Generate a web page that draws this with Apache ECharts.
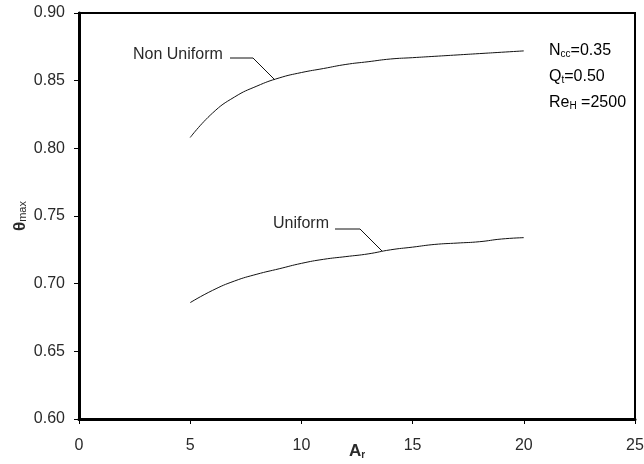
<!DOCTYPE html>
<html>
<head>
<meta charset="utf-8">
<script src="https://cdn.jsdelivr.net/npm/echarts@6/dist/echarts.min.js"></script>
<style>
html, body { margin: 0; padding: 0; background: #fff; }
#chart { width: 644px; height: 464px; }
</style>
</head>
<body>
<div id="chart"></div>
<script>
// A_r values and theta_max
var arValues = [5, 6, 7, 8, 9, 10, 11, 12, 13, 14, 15, 16, 17, 18, 19, 20];
var nonUniform = [0.808, 0.826, 0.838, 0.846, 0.852, 0.856, 0.859, 0.862, 0.864, 0.866, 0.867, 0.868, 0.869, 0.870, 0.871, 0.872];
var uniform = [0.686, 0.695, 0.702, 0.707, 0.711, 0.715, 0.718, 0.720, 0.722, 0.725, 0.727, 0.729, 0.730, 0.731, 0.733, 0.734];
var xTicks = [0, 5, 10, 15, 20, 25];
var yTicks = [0.60, 0.65, 0.70, 0.75, 0.80, 0.85, 0.90];

var font = 'Liberation Sans, Arial, sans-serif';
var txt = '#2a2a2a';
var chart = echarts.init(document.getElementById('chart'));

function pairs(xs, ys) {
    return xs.map(function (x, i) { return [x, ys[i]]; });
}

var subRich = {
    n: {fontSize: 16, fontFamily: font, color: txt},
    s: {fontSize: 10, fontFamily: font, color: txt, padding: [7, 0, 0, 0]}
};

chart.setOption({
    animation: false,
    grid: {
        left: 79, right: 9, top: 13, bottom: 45,
        containLabel: false, outerBoundsMode: 'none',
        show: true, borderColor: '#000', borderWidth: 2
    },
    xAxis: {
        type: 'value',
        min: xTicks[0], max: xTicks[xTicks.length - 1], interval: 5,
        name: '{a|A}{r|r}',
        nameLocation: 'middle', nameGap: 23, nameMoveOverlap: false,
        nameTextStyle: {
            rich: {
                a: {fontSize: 17, fontWeight: 'bold', fontFamily: font, color: txt},
                r: {fontSize: 10, fontWeight: 'bold', fontFamily: font, color: txt, padding: [8, 0, 0, 0]}
            }
        },
        axisLine: {lineStyle: {color: '#000', width: 3}},
        axisTick: {show: true, length: 5, lineStyle: {color: '#000', width: 1}},
        axisLabel: {fontSize: 16, fontFamily: font, color: txt, margin: 19},
        splitLine: {show: false}
    },
    yAxis: {
        type: 'value',
        min: yTicks[0], max: yTicks[yTicks.length - 1], interval: 0.05,
        name: '{t|θ}{m|max}',
        nameLocation: 'middle', nameGap: 50, nameRotate: 90, nameMoveOverlap: false,
        nameTextStyle: {
            rich: {
                t: {fontSize: 17, fontWeight: 'bold', fontFamily: font, color: txt},
                m: {fontSize: 11, fontFamily: font, color: txt, padding: [5, 0, 0, 0]}
            }
        },
        axisLine: {show: true, lineStyle: {color: '#000', width: 3}},
        axisTick: {show: true, length: 5, lineStyle: {color: '#000', width: 1}},
        axisLabel: {
            fontSize: 16, fontFamily: font, color: txt, margin: 14,
            formatter: function (v) { return v.toFixed(2); }
        },
        splitLine: {show: false}
    },
    series: [
        {
            name: 'Non Uniform', type: 'line', smooth: true, showSymbol: false,
            lineStyle: {color: '#111', width: 1},
            data: pairs(arValues, nonUniform)
        },
        {
            name: 'Uniform', type: 'line', smooth: true, showSymbol: false,
            lineStyle: {color: '#111', width: 1},
            data: pairs(arValues, uniform)
        }
    ],
    graphic: [
        {type: 'text', left: 133, top: 47, style: {text: 'Non Uniform', font: '16px ' + font, fill: txt}},
        {type: 'polyline', shape: {points: [[230, 58], [253, 58], [275, 80]]}, style: {stroke: '#111', lineWidth: 1, fill: null}},
        {type: 'text', left: 273, top: 216, style: {text: 'Uniform', font: '16px ' + font, fill: txt}},
        {type: 'polyline', shape: {points: [[335, 229], [360, 229], [382, 251]]}, style: {stroke: '#111', lineWidth: 1, fill: null}},
        {type: 'text', left: 549, top: 43, style: {text: '{n|N}{s|cc}{n|=0.35}', rich: subRich}},
        {type: 'text', left: 549, top: 69, style: {text: '{n|Q}{s|t}{n|=0.50}', rich: subRich}},
        {type: 'text', left: 549, top: 95, style: {text: '{n|Re}{s|H}{n| =2500}', rich: subRich}}
    ]
});
</script>
</body>
</html>
